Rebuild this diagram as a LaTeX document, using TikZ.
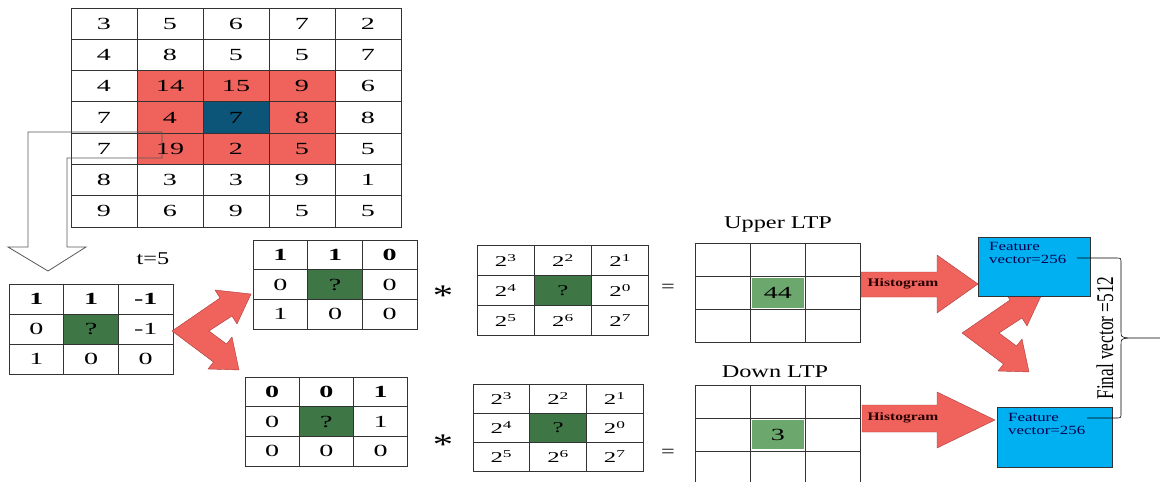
\documentclass[tikz,border=0pt]{standalone}
\usepackage{fontspec}
\setmainfont[FakeStretch=1.35]{Liberation Serif}
\newfontfamily\numfont[FakeStretch=1.65]{Liberation Serif}
\newfontfamily\narrowfont[FakeStretch=0.72]{Liberation Serif}
\usetikzlibrary{positioning, calc, backgrounds}
\definecolor{ltpred}{RGB}{240,98,92}
\definecolor{arrowedge}{RGB}{170,60,60}
\definecolor{cellblue}{RGB}{12,84,120}
\definecolor{qgreen}{RGB}{62,118,70}
\definecolor{ltpgreen}{RGB}{108,168,110}
\definecolor{featblue}{RGB}{0,176,240}

% name, x, y, cell width, cell height, rows, extra style
\newcommand{\cellgrid}[7]{%
  \foreach \rowvals [count=\r from 0] in {#6} {
    \foreach \v [count=\c from 0] in \rowvals {
      \node[cell, minimum width=#4, minimum height=#5, #7] (#1-\r-\c) at ({#2+#4*(\c+0.5)},{#3+#5*(\r+0.5)}) {\v};
    }
  }
}

\begin{document}
\begin{tikzpicture}[
    x=1pt, y=-1pt,
    cell/.style={draw=black!80, line width=0.9pt, inner sep=0pt, font=\numfont\fontsize{17}{20}\selectfont},
    powcell/.style={font=\numfont\fontsize{15}{18}\selectfont},
    bigarrow/.style={fill=ltpred, draw=arrowedge, line width=0.4pt, line join=miter},
    hollow/.style={draw=black!65, line width=0.8pt},
    lbl/.style={font=\fontsize{18}{21}\selectfont},
    histlbl/.style={font=\bfseries\fontsize{11.5}{13}\selectfont, text=black!85!red},
    featbox/.style={rectangle, fill=featblue, draw=black!80, line width=0.8pt, inner sep=0pt},
    feattxt/.style={font=\fontsize{12.5}{13.5}\selectfont, align=left, text=blue!30!black, inner sep=0pt},
    vshape/.pic={
      \filldraw[bigarrow] (0,0) -- (48,-33) -- (43,-41) -- (79,-37) -- (65,-7) -- (60,-15)
        -- (37,0) -- (54.5,13) -- (60,6) -- (67,39) -- (36,38) -- (41.5,31) -- cycle;
    },
  ]
    \useasboundingbox (0,0) rectangle (1160,482);

    % image patch and the 3x3 neighbourhoods
    \cellgrid{img}{71}{8}{66}{31.3}{{3,5,6,7,2},{4,8,5,5,7},{4,14,15,9,6},{7,4,7,8,8},{7,19,2,5,5},{8,3,3,9,1},{9,6,9,5,5}}{}
    \cellgrid{src}{9}{284}{54.7}{30}{{\textbf{1},\textbf{1},\textbf{-1}},{0,?,-1},{1,0,0}}{}
    \cellgrid{upc}{253}{240}{54.7}{29.7}{{\textbf{1},\textbf{1},\textbf{0}},{0,?,0},{1,0,0}}{}
    \cellgrid{dnc}{245}{377}{54.3}{29.7}{{\textbf{0},\textbf{0},\textbf{1}},{0,?,1},{0,0,0}}{}
    \cellgrid{upw}{477}{245}{57.3}{30.3}{{2\textsuperscript{3},2\textsuperscript{2},2\textsuperscript{1}},{2\textsuperscript{4},?,2\textsuperscript{0}},{2\textsuperscript{5},2\textsuperscript{6},2\textsuperscript{7}}}{powcell}
    \cellgrid{dnw}{473}{384}{56.7}{29}{{2\textsuperscript{3},2\textsuperscript{2},2\textsuperscript{1}},{2\textsuperscript{4},?,2\textsuperscript{0}},{2\textsuperscript{5},2\textsuperscript{6},2\textsuperscript{7}}}{powcell}
    \cellgrid{upl}{695}{243}{55.3}{33.3}{{{},{},{}},{{},44,{}},{{},{},{}}}{}
    \cellgrid{dnl}{695}{385}{55.3}{33}{{{},{},{}},{{},3,{}},{{},{},{}}}{}

    \begin{scope}[on background layer]
      \fill[ltpred] (img-2-1.north west) rectangle (img-4-3.south east);
      \fill[cellblue] (img-3-2.north west) rectangle (img-3-2.south east);
      \foreach \g in {src, upc, dnc, upw, dnw}
        \fill[qgreen] (\g-1-1.north west) rectangle (\g-1-1.south east);
      \foreach \g in {upl, dnl}
        \fill[ltpgreen] ($(\g-1-1.north west)+(2,2)$) rectangle ($(\g-1-1.south east)+(-2,-2)$);
    \end{scope}

    % hollow arrow down to the thresholded patch
    \draw[hollow] (162,132) -- (28,132) -- (28,247) -- (8,247) -- (48,271) -- (86,247)
      -- (67,247) -- (67,158) -- (162,158) -- cycle;
    \node[lbl] (thr) at (153,259) {t=5};

    % split into upper and lower patterns
    \pic at (172,331) {vshape};
    \pic at (962,333) {vshape};

    \node[font=\fontsize{30}{30}\selectfont] (mul1) at (443,296) {*};
    \node[font=\fontsize{30}{30}\selectfont] (mul2) at (443,445) {*};
    \node[lbl] (eq1) at (668,288) {=};
    \node[lbl] (eq2) at (668,453) {=};

    \node[lbl] (uplbl) at (778,225) {Upper LTP};
    \node[lbl] (dnlbl) at (775,372) {Down LTP};

    % histogram arrows
    \filldraw[bigarrow] (861,272) -- (937,272) -- (937,255) -- (978,284) -- (937,313)
      -- (937,297) -- (861,297) -- cycle;
    \filldraw[bigarrow] (862,405) -- (937,405) -- (937,392) -- (995,420) -- (937,448)
      -- (937,432) -- (862,432) -- cycle;
    \node[histlbl] (hist1) at (903,284) {Histogram};
    \node[histlbl] (hist2) at (903,418) {Histogram};

    % feature vectors
    \node[featbox, minimum width=112, minimum height=59, anchor=north west] (feat1) at (978,237) {};
    \node[featbox, minimum width=115, minimum height=60, anchor=north west] (feat2) at (997,407) {};
    \node[feattxt, anchor=north west] (feat1txt) at (989,242) {Feature\\vector=256};
    \node[feattxt, anchor=north west] (feat2txt) at (1008,413) {Feature\\vector=256};

    % brace
    \coordinate (fin) at (1160,338);
    \draw[line width=0.6pt] (1077,258) -- (1116,258) .. controls (1121,258) .. (1121,263) -- (1121,331)
      .. controls (1121,337) .. (1128,338) -- (fin);
    \draw[line width=0.6pt] (1128,338) .. controls (1121,339) .. (1121,345) -- (1121,413)
      .. controls (1121,418) .. (1116,418) -- (1087,418);
    \node[rotate=90, font=\narrowfont\fontsize{24}{26}\selectfont] (final) at (1105,338) {Final vector =512};
  \end{tikzpicture}
\end{document}
